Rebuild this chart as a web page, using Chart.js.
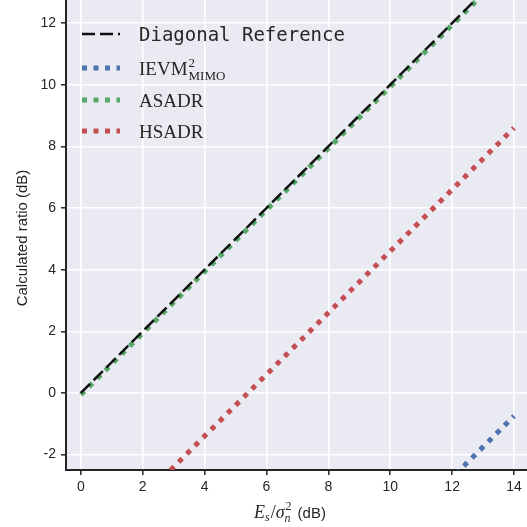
<!DOCTYPE html>
<html>
<head>
<meta charset="utf-8">
<script src="https://cdn.jsdelivr.net/npm/chart.js@4/dist/chart.umd.min.js"></script>
<style>
  html, body { margin: 0; padding: 0; background: #ffffff; }
  #wrap { width: 527px; height: 527px; position: relative; }
</style>
</head>
<body>
<div id="wrap"><canvas id="ratioChart" width="527" height="527"></canvas></div>
<script>
// ==========================
// Calculated ratio vs Es/sigma_n^2
// ==========================

const snrDb = [0, 1, 2, 3, 4, 5, 6, 7, 8, 9, 10, 11, 12, 13, 14];

const diagonal = [0, 1, 2, 3, 4, 5, 6, 7, 8, 9, 10, 11, 12, 13, 14];
const ievm = [-14.75, -13.75, -12.75, -11.75, -10.75, -9.75, -8.75, -7.75, -6.75, -5.75, -4.75, -3.75, -2.75, -1.75, -0.75];
const asadr = [-0.06, 0.94, 1.94, 2.94, 3.94, 4.94, 5.94, 6.94, 7.94, 8.94, 9.94, 10.94, 11.94, 12.94, 13.94];
const hsadr = [-5.4, -4.4, -3.4, -2.4, -1.4, -0.4, 0.6, 1.6, 2.6, 3.6, 4.6, 5.6, 6.6, 7.6, 8.6];

const xTicks = [0, 2, 4, 6, 8, 10, 12, 14];
const yTicks = [-2, 0, 2, 4, 6, 8, 10, 12];

const BLUE = "#4C72B0";
const GREEN = "#55A868";
const RED = "#C44E52";
const INK = "#262626";

const pts = ys => snrDb.map((x, i) => ({ x: x, y: ys[i] }));

const dotted = [5, 6.5];
const dashed = [13, 5];

// shaded plot background
const bgPlugin = {
    id: "bg",
    beforeDraw(chart){
        const a = chart.chartArea, c = chart.ctx;
        c.save();
        c.fillStyle = "#EAEAF2";
        c.fillRect(a.left, a.top, a.right - a.left, a.bottom - a.top);
        c.restore();
    }
};

// legend, y title and math x title drawn by hand
const textPlugin = {
    id: "texts",
    afterDraw(chart){
        const c = chart.ctx;
        c.save();

        const handle = (y, color, dash, w) => {
            c.beginPath();
            c.setLineDash(dash);
            c.lineCap = "butt";
            c.strokeStyle = color;
            c.lineWidth = w;
            c.moveTo(82, y);
            c.lineTo(120, y);
            c.stroke();
        };

        handle(34, "#111111", dashed, 2.5);
        handle(68, BLUE, dotted, 5);
        handle(100, GREEN, dotted, 5);
        handle(131, RED, dotted, 5);
        c.setLineDash([]);

        c.fillStyle = INK;
        c.textBaseline = "alphabetic";
        c.textAlign = "left";

        c.font = "19px 'DejaVu Sans Mono'";
        c.fillText("Diagonal Reference", 139, 41);

        c.font = "19px 'Liberation Serif'";
        c.fillText("IEVM", 139, 75);
        let w = c.measureText("IEVM").width;
        c.font = "13px 'Liberation Serif'";
        c.fillText("2", 139 + w + 1, 67);
        c.fillText("MIMO", 139 + w + 1, 80);

        c.font = "19px 'Liberation Serif'";
        c.fillText("ASADR", 139, 107);
        c.fillText("HSADR", 139, 138);

        // y title
        c.save();
        c.translate(27, 238);
        c.rotate(-Math.PI / 2);
        c.textAlign = "center";
        c.font = "15px 'Liberation Sans'";
        c.fillText("Calculated ratio (dB)", 0, 0);
        c.restore();

        // x title: E_s / sigma_n^2 (dB)
        const base = 518;
        let x = 254;
        c.font = "italic 18px 'Liberation Serif'";
        c.fillText("E", x, base);
        x += c.measureText("E").width;
        c.font = "italic 12px 'Liberation Serif'";
        c.fillText("s", x, base + 3);
        x += c.measureText("s").width + 1;
        c.font = "18px 'Liberation Serif'";
        c.fillText("/", x, base);
        x += c.measureText("/").width;
        c.font = "italic 18px 'Liberation Serif'";
        c.fillText("σ", x, base);
        x += c.measureText("σ").width;
        c.font = "italic 12px 'Liberation Serif'";
        c.fillText("n", x, base + 4);
        c.font = "12px 'Liberation Serif'";
        c.fillText("2", x + 1, base - 8);
        x += c.measureText("n").width + 3;
        c.font = "15px 'Liberation Sans'";
        c.fillText("(dB)", x + 4, base);

        c.restore();
    }
};

new Chart(
    document.getElementById("ratioChart"),
    {
        type: "line",
        data: {
            datasets: [
                { label: "Diagonal Reference", data: pts(diagonal), borderColor: "#111111", borderWidth: 2.5, borderDash: dashed },
                { label: "IEVM", data: pts(ievm), borderColor: BLUE, borderWidth: 5, borderDash: dotted },
                { label: "ASADR", data: pts(asadr), borderColor: GREEN, borderWidth: 5, borderDash: dotted },
                { label: "HSADR", data: pts(hsadr), borderColor: RED, borderWidth: 5, borderDash: dotted }
            ]
        },
        options: {
            responsive: false,
            animation: false,
            layout: { padding: 0 },
            elements: {
                point: { radius: 0 },
                line: { tension: 0, borderCapStyle: "butt" }
            },
            plugins: {
                legend: { display: false },
                tooltip: { enabled: false }
            },
            scales: {
                x: {
                    type: "linear",
                    min: -0.48,
                    max: 14.42,
                    afterBuildTicks: s => { s.ticks = xTicks.map(v => ({ value: v })); },
                    afterFit: s => { s.height = 57; s.paddingLeft = 0; s.paddingRight = 0; },
                    ticks: { color: INK, font: { family: "Liberation Sans", size: 14 }, padding: 4, maxRotation: 0 },
                    grid: { color: "#ffffff", lineWidth: 1.6, tickColor: INK, tickLength: 5, tickWidth: 1.5 },
                    border: { display: true, color: INK, width: 2 }
                },
                y: {
                    min: -2.5,
                    max: 12.75,
                    afterBuildTicks: s => { s.ticks = yTicks.map(v => ({ value: v })); },
                    afterFit: s => { s.width = 66; s.paddingTop = 0; s.paddingBottom = 0; },
                    ticks: { color: INK, font: { family: "Liberation Sans", size: 14 }, padding: 5 },
                    grid: { color: "#ffffff", lineWidth: 1.6, tickColor: INK, tickLength: 5, tickWidth: 1.5 },
                    border: { display: true, color: INK, width: 2 }
                }
            }
        },
        plugins: [bgPlugin, textPlugin]
    }
);
</script>
</body>
</html>
